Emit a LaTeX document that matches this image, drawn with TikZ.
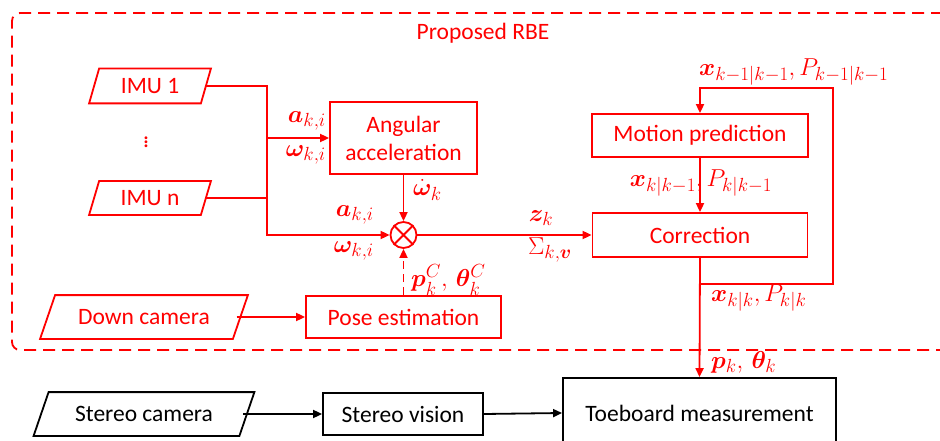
\documentclass[tikz,border=0pt]{standalone}
\usepackage{fix-cm}
\usepackage{amsmath}
\usepackage{bm}
\usepackage{fontspec}
\setmainfont{Carlito}
\usetikzlibrary{arrows.meta,calc}

\DeclareMathSizes{24.5}{24.5}{19}{14}

\definecolor{rbe}{RGB}{255,0,0}

\tikzset{
  base/.style={line width=1.8pt, inner sep=0pt, font=\fontsize{23.5}{27}\selectfont},
  rbox/.style={base, draw=rbe, text=rbe, rectangle},
  kbox/.style={base, draw=black, text=black, rectangle},
  rpar/.style={base, text=rbe, rectangle},
  kpar/.style={base, text=black, rectangle},
  rline/.style={draw=rbe, line width=1.8pt},
  kline/.style={draw=black, line width=1.8pt},
  tip/.style={-{Triangle[length=9pt,width=8pt]}},
  lbl/.style={text=rbe, inner sep=0pt, font=\fontsize{24.5}{28}\selectfont},
  frame/.style={draw=rbe, line width=1.8pt, dash pattern=on 12pt off 7pt, rounded corners=8pt},
}

% parallelogram drawn around a (borderless) rectangular node
\newcommand{\slantbox}[3]{%
  \draw[#1, line width=1.8pt, line join=miter]
    ([xshift=-#3]#2.south west) -- ([xshift=#3]#2.north west) --
    ([xshift=#3]#2.north east) -- ([xshift=-#3]#2.south east) -- cycle;}

\begin{document}
\begin{tikzpicture}[x=1pt, y=-1pt]
\useasboundingbox (0,0) rectangle (940,441);

% dashed frame of the estimator
\draw[frame] (1000,13) -- (12,13) -- (12,350) -- (1000,350);
\node[rpar] (title) at (483,33) {Proposed RBE};

% inputs
\node[rpar, minimum width=110pt, minimum height=33pt] (imu1) at (150,86) {IMU 1};
\slantbox{rbe}{imu1}{5pt}
\node[rpar] (dots) at (146,139) {$\vdots$};
\node[rpar, minimum width=110pt, minimum height=32pt] (imun) at (150,198) {IMU n};
\slantbox{rbe}{imun}{5pt}
\node[rpar, minimum width=191pt, minimum height=42pt] (down) at (144,317) {Down camera};
\slantbox{rbe}{down}{7.5pt}

% processing blocks
\node[rbox, minimum width=147pt, minimum height=72pt, align=center] (acc) at (403.5,138)
  {Angular\\[1pt]acceleration};
\node[rbox, minimum width=195pt, minimum height=42pt] (pose) at (403.5,317) {Pose estimation};
\node[draw=rbe, line width=1.8pt, circle, minimum size=26pt, inner sep=0pt] (mult) at (403.5,235) {};
\draw[rbe, line width=1.8pt] (mult.north west) -- (mult.south east)
                             (mult.north east) -- (mult.south west);
\node[rbox, minimum width=216pt, minimum height=43pt] (mp) at (700,135.5) {Motion prediction};
\node[rbox, minimum width=215pt, minimum height=44pt] (corr) at (700,235) {Correction};

% external blocks
\node[kpar, minimum width=204pt, minimum height=42pt] (scam) at (144,414) {Stereo camera};
\slantbox{black}{scam}{7.5pt}
\node[kbox, minimum width=160pt, minimum height=42pt] (svis) at (403,414) {Stereo vision};
\node[kbox, minimum width=273pt, minimum height=70pt] (toe) at (699.5,413) {Toeboard measurement};

% IMU bus
\coordinate (bus) at (267,235);
\draw[rline, tip] (imu1.east) -| (bus) -- (mult.west);
\draw[rline] (imun.east) -- (imun.east -| bus);
\draw[rline, tip] (bus |- acc.west) -- (acc.west);

\draw[rline, tip] (acc.south) -- (mult.north);
\draw[rline, tip] (mult.east) -- (corr.west);
\draw[rline, tip, dash pattern=on 8pt off 5pt] (pose.north) -- (mult.south);
\draw[rline, tip] ([xshift=-3.75pt]down.east) -- (pose.west);
\draw[rline, tip] (mp.south) -- (corr.north);
\draw[rline, tip] (corr.south) -- (toe.north);

% feedback of the corrected state
\coordinate (loopb) at (833,284);
\coordinate (loopt) at (833,88);
\draw[rline, tip] (corr.south |- loopb) -- (loopb) -- (loopt) -- (mp.north |- loopt) -- (mp.north);

\draw[kline, tip] ([xshift=-3.75pt]scam.east) -- (svis.west);
\draw[kline, tip] (svis.east) -- (toe.west);

% signal labels
\node[lbl, anchor=east] (la1) at (326,121) {$\bm{a}_{k,i}$};
\node[lbl, anchor=east] (lw1) at (326,155) {$\bm{\omega}_{k,i}$};
\node[lbl, anchor=west] (lwd) at (413,190) {$\dot{\bm{\omega}}_k$};
\node[lbl, anchor=east] (la2) at (374,215) {$\bm{a}_{k,i}$};
\node[lbl, anchor=east] (lw2) at (374,251) {$\bm{\omega}_{k,i}$};
\node[lbl] (lz) at (541,218) {$\bm{z}_k$};
\node[lbl] (lsig) at (550,250) {$\Sigma_{k,\bm{v}}$};
\node[lbl, anchor=west] (lpc) at (411,280) {$\bm{p}_k^C,\, \bm{\theta}_k^C$};
\node[lbl, anchor=west] (lprev) at (699,72) {$\bm{x}_{k-1|k-1}, P_{k-1|k-1}$};
\node[lbl] (lpred) at (701,183) {$\bm{x}_{k|k-1}, P_{k|k-1}$};
\node[lbl, anchor=west] (lpost) at (711,298) {$\bm{x}_{k|k}, P_{k|k}$};
\node[lbl, anchor=west] (lout) at (711,362) {$\bm{p}_k,\, \bm{\theta}_k$};
\end{tikzpicture}
\end{document}
